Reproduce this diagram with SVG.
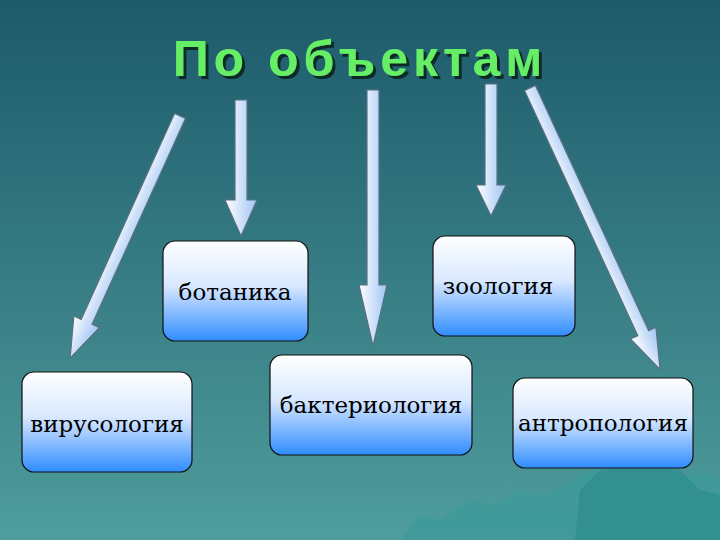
<svg xmlns="http://www.w3.org/2000/svg" width="720" height="540" viewBox="0 0 720 540">
<defs>
<linearGradient id="bg" x1="0" y1="0" x2="0" y2="1"><stop offset="0" stop-color="#1d5a6b"/><stop offset="1" stop-color="#4f9d9c"/></linearGradient>
<linearGradient id="box" x1="0" y1="0" x2="0" y2="1"><stop offset="0" stop-color="#ffffff"/><stop offset="0.45" stop-color="#d8e8ff"/><stop offset="1" stop-color="#2f8cff"/></linearGradient>
<linearGradient id="arr" x1="0" y1="0" x2="1" y2="0"><stop offset="0" stop-color="#ffffff"/><stop offset="1" stop-color="#9fc4f4"/></linearGradient>
<filter id="sh" x="-10%" y="-30%" width="120%" height="160%"><feDropShadow dx="3" dy="3" stdDeviation="0.5" flood-color="#102a28"/></filter>
<style>
.box{fill:url(#box);stroke:#111;stroke-width:1.2}
.lbl{font-family:"DejaVu Serif",serif;font-size:23px;fill:#000;text-anchor:middle}
.arrow{fill:url(#arr);stroke:#5a7080;stroke-width:1.2}
</style>
</defs>
<rect width="720" height="540" fill="url(#bg)"/>
<path d="M400,540 L420,515 L440,520 L470,500 L495,505 L520,490 L545,495 L570,480 L590,470 L610,478 L640,470 L670,480 L700,472 L720,478 L720,540 Z" fill="#3f9a9a" opacity="0.8"/>
<path d="M575,540 L580,490 L600,470 L640,465 L680,470 L700,490 L720,495 L720,540 Z" fill="#2f8d8e" opacity="0.8"/>
<text x="360" y="76" font-family="Liberation Sans,Arial,sans-serif" font-weight="bold" font-size="50" letter-spacing="5" text-anchor="middle" fill="#66ee66" filter="url(#sh)">По объектам</text>
<g id="connectors">
<polygon class="arrow" transform="translate(180,116) rotate(24.4)" points="-6,0 6,0 6,226 14,226 0,266 -14,226 -6,226"/>
<polygon class="arrow" points="235,100 247,100 247,200 257,200 241,236 225,200 235,200"/>
<polygon class="arrow" points="367,90 379,90 379,285 387,285 373,346 359,285 367,285"/>
<polygon class="arrow" points="485,84 497,84 497,185 506,185 491,216 476,185 485,185"/>
<polygon class="arrow" transform="translate(530,88) rotate(-24.8)" points="-6,0 6,0 6,270 14,270 0,310 -14,270 -6,270"/>
</g>
<g id="botanika"><rect class="box" x="163" y="241" width="145" height="100" rx="12"/><text class="lbl" x="235" y="300">ботаника</text></g>
<g id="zoologia"><rect class="box" x="433" y="236" width="142" height="100" rx="12"/><text class="lbl" x="498" y="294">зоология</text></g>
<g id="virusologia"><rect class="box" x="22" y="372" width="170" height="100" rx="12"/><text class="lbl" x="107" y="432">вирусология</text></g>
<g id="bakteriologia"><rect class="box" x="270" y="355" width="202" height="100" rx="12"/><text class="lbl" x="371" y="413">бактериология</text></g>
<g id="antropologia"><rect class="box" x="513" y="378" width="180" height="90" rx="12"/><text class="lbl" x="603" y="431">антропология</text></g>
</svg>
